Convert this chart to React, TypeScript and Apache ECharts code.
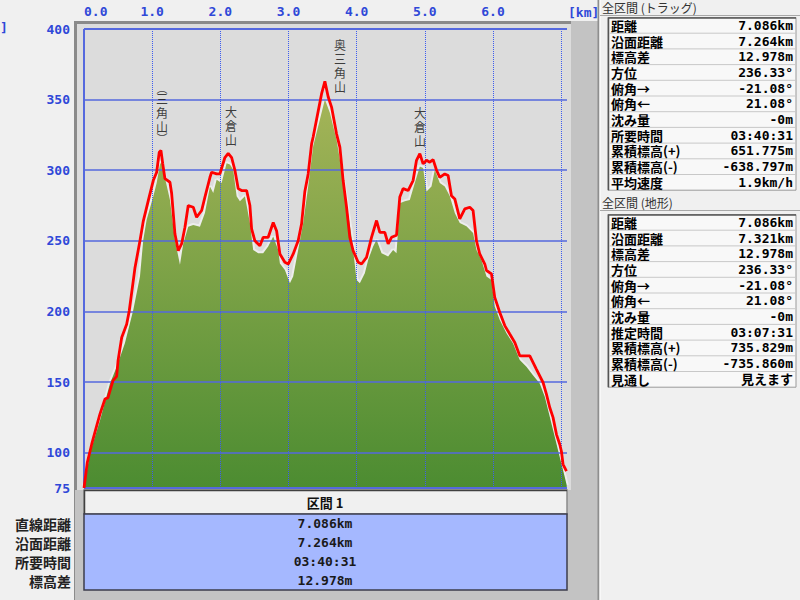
import React, { useEffect, useRef } from 'react';
import * as echarts from 'echarts';

// ---- profile data: [distance km, elevation m] ----
const trackProfile: number[][] = [
  [0, 75], [0.048, 93], [0.113, 106], [0.186, 119], [0.235, 127.5], [0.308, 138], [0.352, 139],
  [0.425, 151], [0.479, 154], [0.499, 165], [0.553, 181.6], [0.626, 191], [0.664, 200.5],
  [0.723, 221.8], [0.748, 231], [0.821, 250], [0.87, 264], [0.943, 278.5], [1.016, 292.7],
  [1.066, 298.6], [1.104, 312.8], [1.129, 314], [1.154, 305], [1.188, 294], [1.261, 291.5],
  [1.286, 283.5], [1.334, 255], [1.383, 243], [1.433, 248], [1.481, 259.6], [1.529, 275],
  [1.603, 273.8], [1.652, 266.7], [1.726, 271.5], [1.774, 281], [1.848, 295], [1.872, 298.6],
  [1.946, 297.4], [1.994, 297.4], [2.067, 309], [2.116, 312], [2.166, 309], [2.214, 300],
  [2.262, 287], [2.312, 285.6], [2.386, 285.6], [2.434, 275], [2.459, 258.5], [2.507, 250],
  [2.581, 246.6], [2.629, 252.5], [2.702, 252.5], [2.776, 263], [2.826, 257], [2.874, 240.7],
  [2.947, 234.8], [2.996, 233.6], [3.069, 240.7], [3.142, 250], [3.192, 262], [3.24, 285],
  [3.289, 297.4], [3.339, 318.7], [3.362, 323.5], [3.436, 342], [3.485, 354], [3.534, 363],
  [3.582, 352], [3.632, 344.7], [3.705, 325.8], [3.754, 316.3], [3.802, 292.7], [3.852, 273.8],
  [3.9, 252.5], [3.949, 243], [4.022, 234.8], [4.072, 233.6], [4.145, 238.3], [4.218, 252.5],
  [4.292, 264.4], [4.34, 256], [4.413, 256], [4.462, 247.8], [4.512, 252.5], [4.585, 254],
  [4.633, 281], [4.682, 287], [4.755, 285.6], [4.828, 292.7], [4.878, 307], [4.927, 311.7],
  [4.975, 304.5], [5.025, 307], [5.073, 305.7], [5.122, 307.5], [5.172, 300], [5.22, 295],
  [5.293, 297.4], [5.342, 296.3], [5.391, 282], [5.44, 279.7], [5.513, 265.6], [5.587, 272.6],
  [5.66, 273.8], [5.708, 271.5], [5.758, 250], [5.806, 240.7], [5.88, 233.6], [5.905, 229],
  [5.978, 226.6], [6.026, 210], [6.1, 199.3], [6.173, 190], [6.246, 184], [6.32, 178],
  [6.393, 168.6], [6.54, 168.6], [6.638, 159], [6.686, 154.4], [6.735, 149.7], [6.784, 141.5],
  [6.833, 132], [6.881, 125], [6.931, 113], [6.979, 106], [7.004, 101], [7.028, 91.8], [7.078, 87],
];

const terrainProfile: number[][] = [
  [0, 75], [0.088, 99.7], [0.235, 123], [0.381, 149], [0.479, 160.7], [0.601, 177.6],
  [0.723, 201], [0.821, 224.8], [0.87, 250.7], [0.919, 264.9], [1.016, 281.4], [1.066, 291],
  [1.114, 304], [1.139, 306], [1.188, 294.5], [1.261, 279], [1.334, 250.7], [1.408, 233],
  [1.456, 248], [1.529, 260], [1.603, 261.3], [1.701, 260], [1.774, 269.7], [1.848, 288.5],
  [1.896, 283.8], [1.946, 293.3], [2.019, 291], [2.092, 305], [2.141, 304], [2.189, 300.4],
  [2.239, 281.5], [2.287, 278], [2.361, 281.5], [2.434, 262.6], [2.482, 243.6], [2.556, 241.3],
  [2.629, 241.3], [2.702, 246], [2.776, 253], [2.849, 243.6], [2.874, 234], [2.947, 229.4],
  [3.021, 220], [3.069, 224.7], [3.142, 243.6], [3.216, 262.6], [3.289, 288.5], [3.362, 317],
  [3.46, 335.8], [3.534, 350], [3.607, 340.7], [3.705, 321.6], [3.779, 300.4], [3.852, 276.7],
  [3.925, 253], [3.999, 222.3], [4.047, 220], [4.12, 227], [4.169, 236.5], [4.242, 246],
  [4.292, 250.7], [4.365, 241.3], [4.462, 239], [4.535, 243.6], [4.585, 241.3], [4.633, 276.7],
  [4.707, 278], [4.78, 279], [4.853, 291], [4.927, 302.7], [4.975, 301.5], [5.025, 285],
  [5.098, 288.5], [5.147, 300.4], [5.22, 291], [5.293, 288.5], [5.367, 281.5], [5.44, 269.7],
  [5.513, 262.6], [5.611, 260.3], [5.708, 255.6], [5.758, 243.6], [5.831, 236.5], [5.905, 224.8],
  [5.978, 222.3], [6.026, 203.5], [6.1, 194], [6.198, 184.5], [6.295, 177.4], [6.393, 165.6],
  [6.491, 160.9], [6.584, 155], [6.686, 149], [6.76, 139.6], [6.833, 125.4], [6.906, 111.2],
  [6.979, 97], [7.053, 82.8], [7.082, 77],
];

const totalKm = 7.086;
const elevMin = 75;
const elevMax = 400;
const elevLabelValues = [75, 100, 150, 200, 250, 300, 350, 400];
const elevGridValues = [100, 150, 200, 250, 300, 350];
const kmGridValues = [1, 2, 3, 4, 5, 6, 7];
const kmLabelMax = 6;

// peak name annotations: name, distance, elevation of label foot
const peakNames = ['(三角山)', '大倉山', '奥三角山', '大倉山'];
const peakKm = [1.144, 2.157, 3.756, 4.93];
const peakLabelElev = [320, 317, 354, 316.3];

// statistics tables
const trackTitle = '全区間 (トラッグ)';
const trackStatLabels = ['距離', '沿面距離', '標高差', '方位', '俯角→', '俯角←', '沈み量', '所要時間', '累積標高(+)', '累積標高(-)', '平均速度'];
const trackStatValues = ['7.086km', '7.264km', '12.978m', '236.33°', '-21.08°', '21.08°', '-0m', '03:40:31', '651.775m', '-638.797m', '1.9km/h'];
const terrainTitle = '全区間 (地形)';
const terrainStatLabels = ['距離', '沿面距離', '標高差', '方位', '俯角→', '俯角←', '沈み量', '推定時間', '累積標高(+)', '累積標高(-)', '見通し'];
const terrainStatValues = ['7.086km', '7.321km', '12.978m', '236.33°', '-21.08°', '21.08°', '-0m', '03:07:31', '735.829m', '-735.860m', '見えます'];
const sectionTitle = '区間 1';
const sectionLabels = ['直線距離', '沿面距離', '所要時間', '標高差'];
const sectionValues = ['7.086km', '7.264km', '03:40:31', '12.978m'];

const CJK = "'Noto Sans CJK JP', sans-serif";
const MONO = "'DejaVu Sans Mono', 'Noto Sans CJK JP', monospace";
const AXIS_BLUE = '#2f48d8';
const GRID_BLUE = '#5569de';

function statTable(title: string, labels: string[], values: string[], titleY: number, top: number, rowH: number) {
  const els: any[] = [];
  const h = rowH * labels.length;
  els.push({ type: 'text', x: 602, y: titleY, z: 10, style: { text: title, fill: '#333', font: `12px ${CJK}`, verticalAlign: 'middle' } });
  els.push({ type: 'line', z: 1, shape: { x1: 600, y1: titleY + 8.5, x2: 800, y2: titleY + 8.5 }, style: { stroke: '#a8a8a8', lineWidth: 1 } });
  els.push({ type: 'rect', z: 1, shape: { x: 608, y: top, width: 188, height: h }, style: { fill: '#f8f8f8', stroke: '#9a9a9a', lineWidth: 1 } });
  els.push({ type: 'polyline', z: 2, shape: { points: [[608.5, top + h], [608.5, top + 0.5], [796, top + 0.5]] }, style: { stroke: '#555', lineWidth: 1.5, fill: null } });
  for (let i = 1; i < labels.length; i++) {
    els.push({ type: 'line', z: 2, shape: { x1: 609, y1: top + rowH * i, x2: 796, y2: top + rowH * i }, style: { stroke: '#c8c8c8', lineWidth: 1 } });
  }
  labels.forEach((l, i) => {
    const cy = top + rowH * (i + 0.5);
    els.push({ type: 'text', z: 10, x: 611, y: cy, style: { text: l, fill: '#000', font: `bold 13px ${CJK}`, verticalAlign: 'middle' } });
    els.push({ type: 'text', z: 10, x: 793, y: cy, style: { text: values[i], fill: '#000', font: `bold 13px ${MONO}`, align: 'right', verticalAlign: 'middle' } });
  });
  return els;
}

function verticalRich(name: string) {
  return name
    .split('')
    .map((ch) => (ch === '(' ? '{p|︵}' : ch === ')' ? '{p|︶}' : `{c|${ch}}`))
    .join('\n');
}

export default function App() {
  const ref = useRef<HTMLDivElement>(null);

  useEffect(() => {
    document.body.style.margin = '0';
    if (!ref.current) return;
    const chart = echarts.init(ref.current, null, { renderer: 'svg' });

    const areaGradient = new echarts.graphic.LinearGradient(0, 0, 0, 1, [
      { offset: 0, color: '#a4b458' },
      { offset: 1, color: '#4c8c31' },
    ]);

    const hLine = (v: number, w: number) => ({ yAxis: v, lineStyle: { type: 'solid', width: w, color: GRID_BLUE } });
    const vLine = (v: number) => ({ xAxis: v, lineStyle: { type: 'dotted', width: 1, color: '#3d5cf0' } });

    const graphic: any[] = [
      { type: 'rect', z: 0, shape: { x: 74, y: 21, width: 524, height: 579 }, style: { fill: '#c3c3c3' } },
      { type: 'line', z: 0, shape: { x1: 74.5, y1: 21, x2: 74.5, y2: 600 }, style: { stroke: '#8c8c8c', lineWidth: 1 } },
      { type: 'rect', z: 0, shape: { x: 74, y: 21, width: 497, height: 469 }, style: { fill: '#dcdcdc' } },
      { type: 'polyline', z: 0, shape: { points: [[75.5, 490], [75.5, 22.5], [571, 22.5]] }, style: { stroke: '#8a8a8a', lineWidth: 3, fill: null } },
      { type: 'line', z: 0, shape: { x1: 598.5, y1: 0, x2: 598.5, y2: 600 }, style: { stroke: '#8e8e8e', lineWidth: 2 } },
      { type: 'line', z: 0, shape: { x1: 600, y1: 0, x2: 600, y2: 600 }, style: { stroke: '#ffffff', lineWidth: 1 } },
      // section header
      { type: 'rect', z: 1, shape: { x: 84, y: 490, width: 483, height: 24 }, style: { fill: '#f0f0f0', stroke: '#8a8a8a', lineWidth: 1.5 } },
      { type: 'polyline', z: 1, shape: { points: [[84.5, 514], [84.5, 490.5], [567, 490.5]] }, style: { stroke: '#404040', lineWidth: 1.5, fill: null } },
      { type: 'text', z: 10, x: 325, y: 502, style: { text: sectionTitle, fill: '#111', font: `bold 13px ${CJK}`, align: 'center', verticalAlign: 'middle' } },
      // section values
      { type: 'rect', z: 1, shape: { x: 84, y: 514, width: 483, height: 76 }, style: { fill: '#a5b8ff', stroke: '#3c3c4c', lineWidth: 1.5 } },
      ...sectionValues.map((v, i) => ({ type: 'text', z: 10, x: 325, y: 523.5 + i * 19, style: { text: v, fill: '#1a1a1a', font: `bold 13px ${MONO}`, align: 'center', verticalAlign: 'middle' } })),
      ...sectionLabels.map((l, i) => ({ type: 'text', z: 10, x: 71, y: 523.5 + i * 19, style: { text: l, fill: '#222', font: `bold 14px ${CJK}`, align: 'right', verticalAlign: 'middle' } })),
      // axis units
      { type: 'text', z: 10, x: 568, y: 12, style: { text: '[km]', fill: AXIS_BLUE, font: `bold 13px ${MONO}`, verticalAlign: 'middle' } },
      { type: 'text', z: 10, x: 0, y: 27, style: { text: ']', fill: AXIS_BLUE, font: `bold 13px ${MONO}`, verticalAlign: 'middle' } },
      ...statTable(trackTitle, trackStatLabels, trackStatValues, 7, 17.5, 15.7),
      ...statTable(terrainTitle, terrainStatLabels, terrainStatValues, 202, 214.5, 15.7),
    ];

    chart.setOption({
      animation: false,
      backgroundColor: '#f0f0f0',
      grid: { left: 84, top: 29, width: 483, height: 459, containLabel: false },
      xAxis: {
        type: 'value',
        position: 'top',
        min: 0,
        max: totalKm,
        interval: 1,
        axisLine: { show: false },
        axisTick: { show: false },
        splitLine: { show: false },
        axisLabel: {
          margin: 11,
          color: AXIS_BLUE,
          fontFamily: 'DejaVu Sans Mono',
          fontWeight: 'bold',
          fontSize: 13,
          alignMinLabel: 'left',
          showMaxLabel: false,
          formatter: (v: number) => (v <= kmLabelMax + 0.001 && Math.abs(v - Math.round(v)) < 1e-6 ? v.toFixed(1) : ''),
        },
      },
      yAxis: {
        type: 'value',
        min: elevMin,
        max: elevMax,
        interval: 25,
        axisLine: { show: false },
        axisTick: { show: false },
        splitLine: { show: false },
        axisLabel: {
          margin: 14,
          color: AXIS_BLUE,
          fontFamily: 'DejaVu Sans Mono',
          fontWeight: 'bold',
          fontSize: 13,
          formatter: (v: number) => (elevLabelValues.includes(v) ? String(v) : ''),
        },
      },
      graphic,
      series: [
        {
          type: 'line',
          data: terrainProfile,
          symbol: 'none',
          silent: true,
          z: 2,
          lineStyle: { color: '#ededed', width: 4 },
        },
        {
          type: 'line',
          data: terrainProfile,
          symbol: 'none',
          silent: true,
          z: 3,
          lineStyle: { width: 0, opacity: 0 },
          areaStyle: { origin: 'start', color: areaGradient, opacity: 1 },
        },
        {
          type: 'line',
          data: terrainProfile,
          symbol: 'none',
          silent: true,
          z: 4,
          lineStyle: { opacity: 0, width: 0 },
          markLine: {
            silent: true,
            symbol: ['none', 'none'],
            label: { show: false },
            z: 5,
            data: [
              ...elevGridValues.map((v) => hLine(v, 1.6)),
              ...kmGridValues.map((v) => vLine(v)),
              hLine(elevMin, 2),
              hLine(elevMax, 2),
              { xAxis: 0, lineStyle: { type: 'solid', width: 2, color: GRID_BLUE } },
              { xAxis: totalKm, lineStyle: { type: 'solid', width: 2, color: GRID_BLUE } },
            ],
          },
        },
        {
          type: 'line',
          data: trackProfile,
          symbol: 'none',
          silent: true,
          z: 6,
          lineStyle: { color: '#ff0000', width: 2.8 },
        },
        {
          type: 'scatter',
          silent: true,
          z: 7,
          symbolSize: 0,
          data: peakNames.map((n, i) => ({ name: n, value: [peakKm[i], peakLabelElev[i]] })),
          label: {
            show: true,
            position: 'top',
            distance: 0,
            formatter: (p: any) => verticalRich(p.name),
            rich: {
              c: { fontSize: 12, lineHeight: 14, fontFamily: 'Noto Sans CJK JP', color: '#111', align: 'center' },
              p: { fontSize: 11, lineHeight: 8, fontFamily: 'Noto Sans CJK JP', color: '#111', align: 'center' },
            },
          },
        },
      ],
    });

    return () => chart.dispose();
  }, []);

  return <div ref={ref} style={{ width: 800, height: 600 }} />;
}
